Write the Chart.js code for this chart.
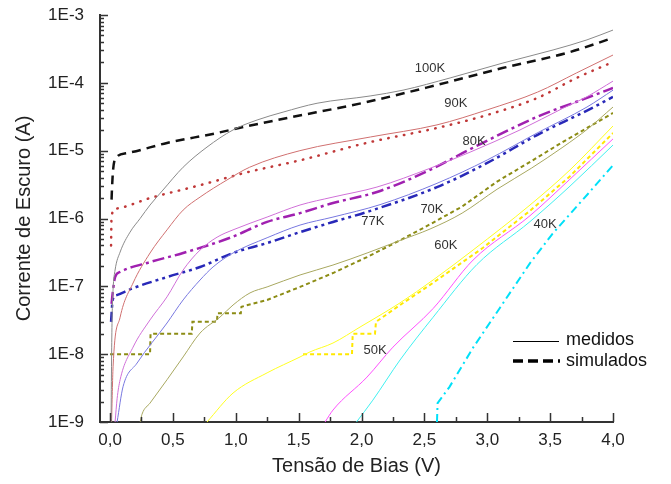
<!DOCTYPE html>
<html>
<head>
<meta charset="utf-8">
<script src="https://cdn.jsdelivr.net/npm/chart.js@4.4.1/dist/chart.umd.min.js"></script>
<style>
  body { margin: 0; background: #fff; }
  #chart { display: block; }
</style>
</head>
<body>
<canvas id="chart" width="671" height="484"></canvas>
<script>
// tick labels
const xTicks = [0, 0.5, 1.0, 1.5, 2.0, 2.5, 3.0, 3.5, 4.0];
const yTicks = [1e-9, 1e-8, 1e-7, 1e-6, 1e-5, 1e-4, 1e-3];

// 100K
const v100m = [0.008, 0.012, 0.016, 0.024, 0.04, 0.08, 0.159, 0.239, 0.318, 0.421, 0.581, 0.771, 0.978, 1.169, 1.376, 1.646, 2.068, 2.33, 2.704, 3.125, 3.523, 3.793, 4.0];
const i100m = [1e-9, 8.2e-9, 3.2e-8, 9e-8, 1.74e-7, 3.2e-7, 6.3e-7, 1.0e-6, 1.58e-6, 2.63e-6, 5.7e-6, 1.13e-5, 2.02e-5, 2.83e-5, 3.7e-5, 5.0e-5, 6.4e-5, 7.8e-5, 1.18e-4, 1.96e-4, 3.05e-4, 4.3e-4, 6.0e-4];
const v100s = [0.012, 0.014, 0.024, 0.053, 0.133, 0.453, 0.85, 1.06, 1.41, 2.04, 2.60, 3.12, 3.66, 4.0];
const i100s = [1.9e-6, 2.4e-6, 5.2e-6, 8.1e-6, 9.2e-6, 1.3e-5, 1.82e-5, 2.23e-5, 3.03e-5, 5.2e-5, 9.3e-5, 1.65e-4, 2.85e-4, 4.6e-4];

// 90K
const v90m = [0.012, 0.024, 0.08, 0.183, 0.318, 0.453, 0.581, 0.716, 0.93, 1.11, 1.51, 2.07, 2.60, 3.0, 3.40, 3.71, 4.0];
const i90m = [1e-9, 6.5e-9, 3.5e-8, 1.12e-7, 3.1e-7, 6.8e-7, 1.33e-6, 2.07e-6, 3.7e-6, 5.7e-6, 1.0e-5, 1.59e-5, 2.4e-5, 4.0e-5, 7.3e-5, 1.4e-4, 2.57e-4];
const v90s = [0.008, 0.012, 0.05, 0.318, 0.716, 1.11, 1.51, 2.04, 2.60, 3.0, 3.40, 3.71, 4.0];
const i90s = [4e-7, 1.1e-6, 1.4e-6, 2.0e-6, 3.1e-6, 4.9e-6, 7.2e-6, 1.3e-5, 2.16e-5, 3.36e-5, 6.0e-5, 1.18e-4, 2.03e-4];

// 80K
const v80m = [0.04, 0.056, 0.08, 0.183, 0.318, 0.453, 0.581, 0.716, 0.851, 0.978, 1.249, 1.511, 1.773, 2.123, 2.545, 2.863, 3.26, 3.60, 3.79, 4.0];
const i80m = [1e-9, 2.2e-9, 4.2e-9, 1.27e-8, 3.2e-8, 7.0e-8, 1.74e-7, 3.43e-7, 5.3e-7, 6.8e-7, 1.05e-6, 1.58e-6, 2.07e-6, 2.91e-6, 5.5e-6, 9.5e-6, 2.02e-5, 4.2e-5, 6.2e-5, 1.06e-4];
const v80s = [0.012, 0.021, 0.04, 0.08, 0.318, 0.581, 0.954, 1.249, 1.511, 1.773, 2.123, 2.545, 2.863, 3.396, 3.793, 4.0];
const i80s = [5.5e-8, 8e-8, 1.37e-7, 1.63e-7, 2.28e-7, 3.1e-7, 5.2e-7, 8.9e-7, 1.2e-6, 1.69e-6, 2.46e-6, 5.2e-6, 1.05e-5, 3.15e-5, 6.0e-5, 8.4e-5];

// 77K
const v77m = [0.056, 0.103, 0.215, 0.453, 0.581, 0.716, 0.819, 0.978, 1.249, 1.511, 1.773, 2.147, 2.60, 3.0, 3.396, 3.793, 4.0];
const i77m = [1e-9, 3.3e-9, 7.4e-9, 2.88e-8, 6.3e-8, 1.24e-7, 1.93e-7, 3.1e-7, 5.2e-7, 8.0e-7, 1.05e-6, 1.6e-6, 3.3e-6, 7.3e-6, 1.82e-5, 4.4e-5, 7.8e-5];
const v77s = [0.008, 0.021, 0.053, 0.183, 0.453, 0.716, 0.978, 1.249, 1.511, 1.773, 2.044, 2.60, 3.0, 3.396, 3.793, 4.0];
const i77s = [3e-8, 6.3e-8, 7.4e-8, 9.4e-8, 1.37e-7, 1.93e-7, 3.1e-7, 4.35e-7, 6.3e-7, 8.9e-7, 1.25e-6, 2.9e-6, 6.6e-6, 1.7e-5, 3.9e-5, 6.2e-5];

// 70K
const v70m = [0.24, 0.254, 0.318, 0.453, 0.581, 0.716, 0.875, 0.978, 1.113, 1.249, 1.511, 1.773, 2.044, 2.30, 2.545, 2.80, 3.078, 3.35, 3.602, 3.80, 4.0];
const i70m = [1e-9, 1.3e-9, 1.9e-9, 4.2e-9, 9.1e-9, 2.05e-8, 3.53e-8, 5.3e-8, 8e-8, 9.8e-8, 1.47e-7, 2.06e-7, 3.1e-7, 4.7e-7, 7.0e-7, 1.2e-6, 2.7e-6, 5.5e-6, 1.13e-5, 2.1e-5, 4.4e-5];
const v70s = [0.0, 0.318, 0.322, 0.65, 0.655, 0.85, 0.855, 1.04, 1.045, 1.249, 1.511, 1.773, 2.044, 2.30, 2.545, 2.80, 3.078, 3.35, 3.602, 3.80, 4.0];
const i70s = [1e-8, 1e-8, 2e-8, 2e-8, 3e-8, 3e-8, 4e-8, 4e-8, 5e-8, 6.3e-8, 9.8e-8, 1.57e-7, 2.7e-7, 4.7e-7, 8.2e-7, 1.5e-6, 3.5e-6, 7e-6, 1.35e-5, 2.2e-5, 3.6e-5];

// 60K
const v60m = [0.771, 0.978, 1.249, 1.511, 1.59, 1.773, 1.988, 2.306, 2.569, 2.887, 3.34, 3.658, 4.0];
const i60m = [1e-9, 2.67e-9, 5.3e-9, 9.1e-9, 1.08e-8, 1.46e-8, 2.51e-8, 5.7e-8, 1.24e-7, 3.43e-7, 1.58e-6, 5.2e-6, 2.31e-5];
const v60s = [1.535, 1.924, 1.93, 2.107, 2.115, 2.306, 2.545, 2.966, 3.34, 3.658, 4.0];
const i60s = [1e-8, 1e-8, 2e-8, 2e-8, 3e-8, 5.3e-8, 1.05e-7, 3.7e-7, 1.3e-6, 4.2e-6, 1.82e-5];

// 50K
const v50m = [1.71, 1.773, 2.044, 2.25, 2.569, 2.887, 3.34, 3.658, 4.0];
const i50m = [1e-9, 1.5e-9, 4.6e-9, 1.27e-8, 4.7e-8, 2.44e-7, 1.1e-6, 3.8e-6, 1.49e-5];

// 40K
const v40m = [1.96, 2.09, 2.306, 2.569, 2.918, 3.34, 3.658, 4.0];
const i40m = [1e-9, 2.1e-9, 8.2e-9, 3.5e-8, 2.1e-7, 9.0e-7, 3.0e-6, 1.21e-5];
const v40s = [2.60, 2.605, 2.70, 2.89, 3.10, 3.34, 3.52, 3.80, 4.0];
const i40s = [1e-9, 1.9e-9, 3.3e-9, 1.27e-8, 4.8e-8, 2.2e-7, 6.0e-7, 2.3e-6, 6.1e-6];

// curve labels
const tempNames = ['100K', '90K', '80K', '77K', '70K', '60K', '50K', '40K'];
const tempV = [2.545, 2.75, 2.895, 2.09, 2.56, 2.67, 2.107, 3.46];
const tempI = [1.65e-4, 4.9e-5, 1.35e-5, 9.1e-7, 1.38e-6, 4.07e-7, 1.15e-8, 8.3e-7];

const FONT = "Arial, 'Liberation Sans', Helvetica, sans-serif";

function pts(v, c) {
  return v.map((x, k) => ({ x: x, y: c[k] }));
}

function solid(v, c, color) {
  return {
    data: pts(v, c), borderColor: color, borderWidth: 1,
    pointRadius: 0, cubicInterpolationMode: 'monotone', fill: false
  };
}

function sim(v, c, color, width, dash, steps, cap) {
  return {
    data: pts(v, c), borderColor: color, borderWidth: width, borderDash: dash,
    borderCapStyle: cap || 'butt',
    pointRadius: 0, fill: false,
    cubicInterpolationMode: steps ? 'default' : 'monotone', tension: 0
  };
}

const inwardTicks = {
  id: 'inwardTicks',
  afterDraw(chart) {
    const { ctx, chartArea: a, scales: { x, y } } = chart;
    ctx.save();
    ctx.strokeStyle = '#333';
    ctx.lineWidth = 1.5;
    ctx.beginPath();
    for (let k = 0; k <= 16; k++) {
      const px = Math.round(x.getPixelForValue(k * 0.25)) + 0.5;
      const len = k % 2 === 0 ? 9 : 5;
      ctx.moveTo(px, a.bottom);
      ctx.lineTo(px, a.bottom - len);
    }
    for (let e = -9; e <= -3; e++) {
      for (let m = 1; m <= 9; m++) {
        if (e === -3 && m > 1) break;
        const py = Math.round(y.getPixelForValue(m * Math.pow(10, e))) + 0.5;
        const len = m === 1 ? 8 : 4;
        ctx.moveTo(a.left, py);
        ctx.lineTo(a.left + len, py);
      }
    }
    ctx.stroke();
    ctx.restore();
  }
};

const annotations = {
  id: 'annotations',
  afterDraw(chart) {
    const { ctx, scales: { x, y } } = chart;
    ctx.save();
    ctx.fillStyle = '#333';
    ctx.font = '13px ' + FONT;
    ctx.textAlign = 'center';
    ctx.textBaseline = 'middle';
    tempNames.forEach((t, k) => {
      ctx.fillText(t, x.getPixelForValue(tempV[k]), y.getPixelForValue(tempI[k]));
    });
    // legend
    ctx.strokeStyle = '#000';
    ctx.lineWidth = 1;
    ctx.beginPath();
    ctx.moveTo(513, 341.5);
    ctx.lineTo(559, 341.5);
    ctx.stroke();
    ctx.lineWidth = 3.5;
    ctx.setLineDash([10, 5]);
    ctx.beginPath();
    ctx.moveTo(513, 361);
    ctx.lineTo(560, 361);
    ctx.stroke();
    ctx.setLineDash([]);
    ctx.fillStyle = '#111';
    ctx.font = '18px ' + FONT;
    ctx.textAlign = 'left';
    ctx.fillText('medidos', 566, 340);
    ctx.fillText('simulados', 566, 361);
    ctx.restore();
  }
};

new Chart(document.getElementById('chart'), {
  type: 'line',
  data: {
    datasets: [
      solid(v100m, i100m, '#8a8a8a'),
      sim(v100s, i100s, '#111', 2.5, [9, 6]),
      solid(v90m, i90m, '#d07070'),
      sim(v90s, i90s, '#c03838', 2.5, [0.5, 7.5], false, 'round'),
      solid(v80m, i80m, '#d070d8'),
      sim(v80s, i80s, '#a020b0', 2.5, [12, 4, 3, 4]),
      solid(v77m, i77m, '#7878e0'),
      sim(v77s, i77s, '#2828b8', 2.5, [10, 4, 3, 4, 3, 4]),
      solid(v70m, i70m, '#a8a860'),
      sim(v70s, i70s, '#8c8c14', 2, [4, 3], true),
      solid(v60m, i60m, '#ffff20'),
      sim(v60s, i60s, '#ffe800', 2, [4, 3], true),
      solid(v50m, i50m, '#ff50ff'),
      solid(v40m, i40m, '#40f0f0'),
      sim(v40s, i40s, '#00e0f8', 2, [8, 4, 2, 4], true)
    ]
  },
  options: {
    responsive: false,
    animation: false,
    devicePixelRatio: 1,
    layout: { padding: { top: 15, right: 58, left: 0, bottom: 0 } },
    plugins: { legend: { display: false }, tooltip: { enabled: false } },
    scales: {
      x: {
        type: 'linear',
        min: -0.08,
        max: 4.0,
        grid: { display: false, drawTicks: false },
        border: { display: true, color: '#333', width: 2 },
        afterBuildTicks: s => { s.ticks = xTicks.map(v => ({ value: v })); },
        afterFit: s => { s.height = 62; s.paddingLeft = 0; s.paddingRight = 0; },
        ticks: {
          color: '#222', padding: 8, maxRotation: 0,
          font: { family: FONT, size: 17 },
          callback: v => Number(v).toFixed(1).replace('.', ',')
        },
        title: {
          display: true, text: 'Tensão de Bias (V)', color: '#222',
          font: { family: FONT, size: 20 }, padding: { top: 0, bottom: 6 }
        }
      },
      y: {
        type: 'logarithmic',
        min: 1e-9,
        max: 1e-3,
        grid: { display: false, drawTicks: false },
        border: { display: true, color: '#333', width: 2 },
        afterBuildTicks: s => { s.ticks = yTicks.map(v => ({ value: v })); },
        afterFit: s => { s.width = 100; s.paddingTop = 0; s.paddingBottom = 0; },
        ticks: {
          color: '#222', padding: 16,
          font: { family: FONT, size: 17 },
          callback: v => '1E' + Math.round(Math.log10(v))
        },
        title: {
          display: true, text: 'Corrente de Escuro (A)', color: '#222',
          font: { family: FONT, size: 20 }, padding: { top: 12, bottom: 0 }
        }
      }
    }
  },
  plugins: [inwardTicks, annotations]
});
</script>
</body>
</html>
